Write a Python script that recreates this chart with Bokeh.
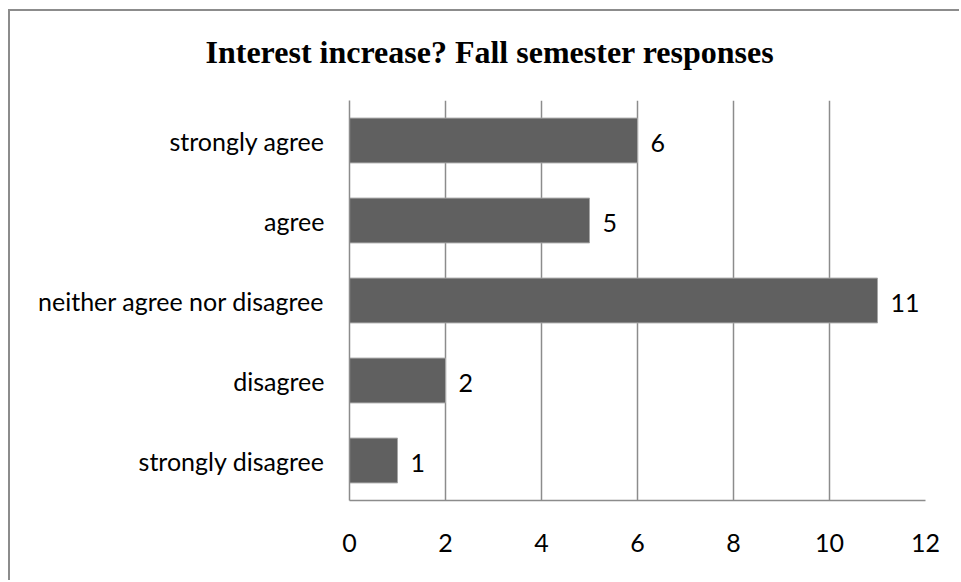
from bokeh.plotting import figure
from bokeh.models import Range1d, FactorRange, ColumnDataSource, LabelSet, FixedTicker, Title
from bokeh.core.properties import value
from bokeh.embed import file_html
from bokeh.resources import INLINE

# ---- data ----
categories = ["strongly agree", "agree", "neither agree nor disagree", "disagree", "strongly disagree"]
counts = [6, 5, 11, 2, 1]
x_ticks = [0, 2, 4, 6, 8, 10, 12]
title_text = "Interest increase? Fall semester responses"

source = ColumnDataSource(dict(cat=categories, count=counts, label=[str(c) for c in counts]))

p = figure(
    width=951, height=571,
    y_range=FactorRange(factors=list(reversed(categories)), range_padding=0),
    x_range=Range1d(0, 12),
    output_backend="svg", toolbar_location=None,
    min_border_left=339, min_border_right=36, min_border_top=89, min_border_bottom=82,
    title=title_text,
    styles={"border-left": "2px solid #8c8c8c", "border-top": "2px solid #8c8c8c",
            "margin-left": "8px", "margin-top": "9px"},
)
p.outline_line_color = None
p.background_fill_color = "white"
p.border_fill_color = "white"

p.hbar(y="cat", right="count", left=0, height=0.56, source=source,
       fill_color="#606060", line_color="#a6a6a6", line_width=1)

labels = LabelSet(x="count", y="cat", text="label", source=source,
                  x_offset=13, y_offset=-2, text_align="left", text_baseline="middle",
                  text_font=value("Lato"), text_font_size="25px", text_color="black")
p.add_layout(labels)

# title
p.title.text_font = "Liberation Serif"
p.title.text_font_style = "bold"
p.title.text_font_size = "32px"
p.title.text_color = "black"
p.title.align = "left"
p.title.offset = -144
p.title.standoff = 0
# spacer between title and plot area
p.add_layout(Title(text=" ", text_font_size="1px", standoff=28), "above")

# axes
p.xaxis.ticker = FixedTicker(ticks=x_ticks)
for ax in (p.xaxis[0], p.yaxis[0]):
    ax.axis_line_color = "#8c8c8c"
    ax.axis_line_width = 1.5
    ax.major_tick_line_color = None
    ax.minor_tick_line_color = None
    ax.major_tick_in = 0
    ax.major_tick_out = 0
    ax.major_label_text_font = "Lato"
    ax.major_label_text_font_size = "25px"
    ax.major_label_text_color = "black"
p.yaxis.major_label_standoff = 25
p.xaxis.major_label_standoff = 33

p.xgrid.ticker = FixedTicker(ticks=x_ticks)
p.xgrid.grid_line_color = "#8c8c8c"
p.xgrid.grid_line_width = 1.5
p.ygrid.grid_line_color = None

open("out.html", "w").write(file_html(p, INLINE))
